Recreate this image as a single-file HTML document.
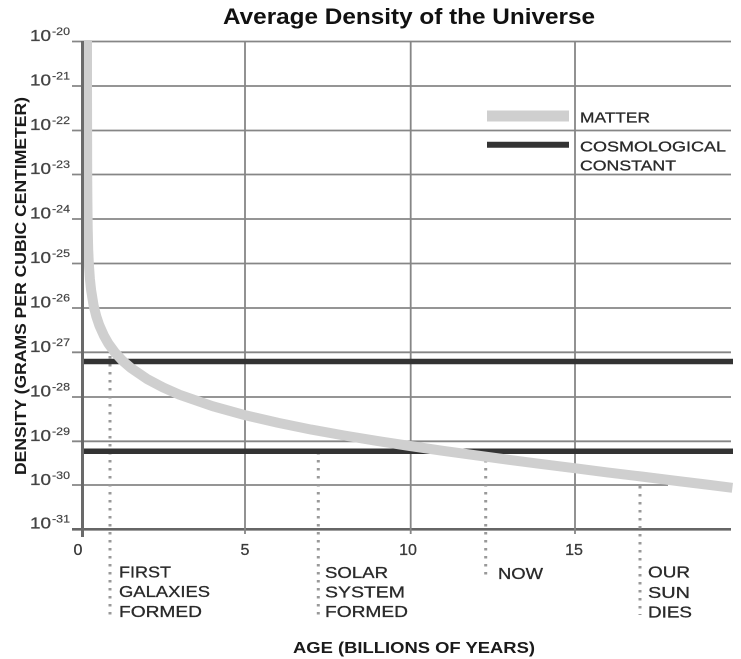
<!DOCTYPE html>
<html><head><meta charset="utf-8"><style>
html,body{margin:0;padding:0;background:#fff;}
svg{display:block;}
text{font-family:"Liberation Sans",Arial,sans-serif;}
</style></head><body>
<svg width="741" height="659" viewBox="0 0 741 659" xmlns="http://www.w3.org/2000/svg">
<rect width="741" height="659" fill="#fff"/>
<!-- Title -->
<text x="223" y="24" font-size="22" font-weight="bold" fill="#111" textLength="372" lengthAdjust="spacingAndGlyphs">Average Density of the Universe</text>

<!-- horizontal gridlines -->
<g stroke="#868686" stroke-width="1.8">
<line x1="72" y1="41.5" x2="731" y2="41.5"/>
<line x1="72" y1="86" x2="731" y2="86"/>
<line x1="72" y1="130.5" x2="731" y2="130.5"/>
<line x1="72" y1="174.5" x2="731" y2="174.5"/>
<line x1="72" y1="219" x2="731" y2="219"/>
<line x1="72" y1="263.5" x2="731" y2="263.5"/>
<line x1="72" y1="308" x2="731" y2="308"/>
<line x1="72" y1="352.3" x2="731" y2="352.3"/>
<line x1="72" y1="397" x2="731" y2="397"/>
<line x1="72" y1="441.3" x2="731" y2="441.3"/>
<line x1="72" y1="485" x2="668" y2="485"/>
</g>
<line x1="72" y1="529.3" x2="731" y2="529.3" stroke="#666" stroke-width="2.6"/>
<!-- vertical gridlines -->
<g stroke="#868686" stroke-width="1.8">
<line x1="245" y1="41" x2="245" y2="534"/>
<line x1="410.7" y1="41" x2="410.7" y2="534"/>
<line x1="575" y1="41" x2="575" y2="534"/>
</g>

<!-- dotted markers -->
<g stroke="#999" stroke-width="3" stroke-dasharray="2.5 5.5">
<line x1="110" y1="356" x2="110" y2="617"/>
<line x1="318.3" y1="452" x2="318.3" y2="617"/>
<line x1="485.7" y1="452" x2="485.7" y2="577"/>
<line x1="640" y1="486" x2="640" y2="615"/>
</g>

<!-- cosmological constant lines -->
<g stroke="#333" stroke-width="5.5">
<line x1="82" y1="361.5" x2="733" y2="361.5"/>
<line x1="82" y1="451.3" x2="733" y2="451.3"/>
</g>

<!-- matter curve -->
<polyline fill="none" stroke="#cfcfcf" stroke-width="10" stroke-linejoin="round" stroke-linecap="butt" points="87.0,40 87.0,85.9 87.1,128.2 87.2,174.6 87.4,201.3 87.7,228.0 88.2,249.6 88.8,263.3 89.9,278.9 91.1,290.0 93.6,305.6 96.4,316.7 99.3,325.3 103.8,335.4 108.3,343.4 114.6,352.1 122.5,360.7 130.6,367.7 146.9,378.9 163.3,387.6 179.7,394.8 212.6,406.2 245.5,415.3 278.4,422.9 311.3,429.6 344.2,435.5 377.1,440.9 410,446.0 442.9,450.8 475.8,455.3 508.7,459.8 541.6,464.1 574.5,468.2 607.4,472.4 640.3,476.4 673.2,480.5 706.1,484.5 732.4,487.8"/>

<!-- y axis (on top of curve) -->
<line x1="82.5" y1="41" x2="82.5" y2="537" stroke="#6a6a6a" stroke-width="3"/>

<!-- legend -->
<line x1="487" y1="116" x2="569" y2="116" stroke="#cfcfcf" stroke-width="11"/>
<line x1="487" y1="144.7" x2="569" y2="144.7" stroke="#333" stroke-width="6"/>
<g fill="#2a2a2a" stroke="#2a2a2a" stroke-width="0.3" font-size="15">
<text x="580" y="122.3" textLength="70" lengthAdjust="spacingAndGlyphs">MATTER</text>
<text x="580" y="151.7" textLength="146" lengthAdjust="spacingAndGlyphs">COSMOLOGICAL</text>
<text x="580" y="170.7" textLength="96" lengthAdjust="spacingAndGlyphs">CONSTANT</text>
</g>

<!-- y tick labels -->
<g fill="#444" stroke="#444" stroke-width="0.3" font-size="16">
<text x="30" y="41" textLength="21" lengthAdjust="spacingAndGlyphs">10</text>
<text x="30" y="85.5" textLength="21" lengthAdjust="spacingAndGlyphs">10</text>
<text x="30" y="130" textLength="21" lengthAdjust="spacingAndGlyphs">10</text>
<text x="30" y="174" textLength="21" lengthAdjust="spacingAndGlyphs">10</text>
<text x="30" y="218.5" textLength="21" lengthAdjust="spacingAndGlyphs">10</text>
<text x="30" y="263" textLength="21" lengthAdjust="spacingAndGlyphs">10</text>
<text x="30" y="307.5" textLength="21" lengthAdjust="spacingAndGlyphs">10</text>
<text x="30" y="352" textLength="21" lengthAdjust="spacingAndGlyphs">10</text>
<text x="30" y="396.5" textLength="21" lengthAdjust="spacingAndGlyphs">10</text>
<text x="30" y="441" textLength="21" lengthAdjust="spacingAndGlyphs">10</text>
<text x="30" y="485" textLength="21" lengthAdjust="spacingAndGlyphs">10</text>
<text x="30" y="528.5" textLength="21" lengthAdjust="spacingAndGlyphs">10</text>
</g>
<g fill="#444" stroke="#444" stroke-width="0.2" font-size="11">
<text x="52" y="35" textLength="18" lengthAdjust="spacingAndGlyphs">-20</text>
<text x="52" y="79.5" textLength="18" lengthAdjust="spacingAndGlyphs">-21</text>
<text x="52" y="124" textLength="18" lengthAdjust="spacingAndGlyphs">-22</text>
<text x="52" y="168" textLength="18" lengthAdjust="spacingAndGlyphs">-23</text>
<text x="52" y="212.5" textLength="18" lengthAdjust="spacingAndGlyphs">-24</text>
<text x="52" y="257" textLength="18" lengthAdjust="spacingAndGlyphs">-25</text>
<text x="52" y="301.5" textLength="18" lengthAdjust="spacingAndGlyphs">-26</text>
<text x="52" y="346" textLength="18" lengthAdjust="spacingAndGlyphs">-27</text>
<text x="52" y="390.5" textLength="18" lengthAdjust="spacingAndGlyphs">-28</text>
<text x="52" y="435" textLength="18" lengthAdjust="spacingAndGlyphs">-29</text>
<text x="52" y="479" textLength="18" lengthAdjust="spacingAndGlyphs">-30</text>
<text x="52" y="522.5" textLength="18" lengthAdjust="spacingAndGlyphs">-31</text>
</g>

<!-- x tick labels -->
<g fill="#3a3a3a" stroke="#3a3a3a" stroke-width="0.3" font-size="16" text-anchor="middle">
<text x="78" y="555">0</text>
<text x="245" y="555">5</text>
<text x="408" y="555">10</text>
<text x="574" y="555">15</text>
</g>

<!-- event labels -->
<g fill="#2a2a2a" stroke="#2a2a2a" stroke-width="0.3" font-size="16">
<text x="119" y="577.5" textLength="52" lengthAdjust="spacingAndGlyphs">FIRST</text>
<text x="119" y="597" textLength="91" lengthAdjust="spacingAndGlyphs">GALAXIES</text>
<text x="119" y="617" textLength="83" lengthAdjust="spacingAndGlyphs">FORMED</text>
<text x="325" y="578" textLength="63" lengthAdjust="spacingAndGlyphs">SOLAR</text>
<text x="325" y="597.5" textLength="80" lengthAdjust="spacingAndGlyphs">SYSTEM</text>
<text x="325" y="617" textLength="83" lengthAdjust="spacingAndGlyphs">FORMED</text>
<text x="498" y="579" textLength="45" lengthAdjust="spacingAndGlyphs">NOW</text>
<text x="648" y="577.5" textLength="42" lengthAdjust="spacingAndGlyphs">OUR</text>
<text x="648" y="598" textLength="42" lengthAdjust="spacingAndGlyphs">SUN</text>
<text x="648" y="617.5" textLength="44" lengthAdjust="spacingAndGlyphs">DIES</text>
</g>

<!-- axis titles -->
<text x="293" y="653" font-size="16" font-weight="bold" fill="#1a1a1a" textLength="242" lengthAdjust="spacingAndGlyphs">AGE (BILLIONS OF YEARS)</text>
<text transform="translate(26,475) rotate(-90)" x="0" y="0" font-size="16" font-weight="bold" fill="#1a1a1a" textLength="378" lengthAdjust="spacingAndGlyphs">DENSITY (GRAMS PER CUBIC CENTIMETER)</text>
</svg>
</body></html>
